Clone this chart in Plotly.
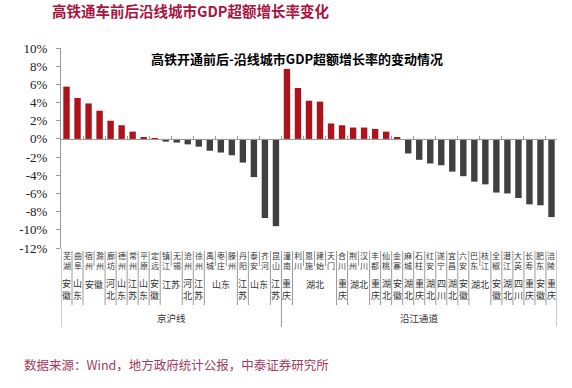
import plotly.graph_objects as go

# ---------------- data ----------------
cities = ["芜湖", "曲阜", "宿州", "滁州", "廊坊", "德州", "常州", "平原", "定远", "镇江",
          "无锡", "沧州", "徐州", "禹城", "枣庄", "滕州", "丹阳", "泰安", "齐河", "昆山",
          "潼南", "利川", "恩施", "建始", "天门", "合川", "荆州", "汉川", "丰都", "仙桃",
          "金寨", "麻城", "石柱", "红安", "遂宁", "宜昌", "六安", "巴东", "枝江", "全椒",
          "潜江", "大英", "长寿", "肥东", "涪陵"]
provinces = ["安徽", "山东", "安徽", "安徽", "河北", "山东", "江苏", "山东", "安徽", "江苏",
             "江苏", "河北", "江苏", "山东", "山东", "山东", "江苏", "山东", "山东", "江苏",
             "重庆", "湖北", "湖北", "湖北", "湖北", "重庆", "湖北", "湖北", "重庆", "湖北",
             "安徽", "湖北", "重庆", "湖北", "四川", "湖北", "安徽", "湖北", "湖北", "安徽",
             "湖北", "四川", "重庆", "安徽", "重庆"]
groups = ["京沪线"] * 20 + ["沿江通道"] * 25
values = [5.75, 4.5, 3.9, 3.1, 2.0, 1.5, 0.8, 0.2, 0.1, -0.3,
          -0.4, -0.6, -0.85, -1.3, -1.5, -1.8, -2.6, -4.2, -8.7, -9.6,
          7.7, 5.6, 4.2, 4.1, 1.7, 1.5, 1.25, 1.25, 1.1, 0.8,
          0.2, -1.6, -2.3, -2.7, -2.9, -3.6, -4.1, -4.7, -5.0, -5.9,
          -6.0, -6.5, -7.2, -7.3, -8.6]
y_tickvals = [10, 8, 6, 4, 2, 0, -2, -4, -6, -8, -10, -12]
y_ticktext = ["10%", "8%", "6%", "4%", "2%", "0%", "-2%", "-4%", "-6%", "-8%", "-10%", "-12%"]

title_text = "高铁通车前后沿线城市GDP超额增长率变化"
inner_title = "高铁开通前后-沿线城市GDP超额增长率的变动情况"
source_text = "数据来源：Wind，地方政府统计公报，中泰证券研究所"

# ---------------- layout constants ----------------
W, H = 572, 388
ML, MR, MT, MB = 61, 15, 48, 140
PLOT_H = H - MT - MB
PLOT_W = W - ML - MR
BOTTOM = MT + PLOT_H


def py(pix):
    return (BOTTOM - pix) / PLOT_H


def px(pix):
    return (pix - ML) / PLOT_W


RED = "#AE131B"
GREY = "#404040"
LINE = "#9A9A9A"
TXT = "#333333"
CJK = "Noto Sans CJK SC"
YMIN, YMAX = -12, 10

colors = [RED if v > 0 else GREY for v in values]

fig = go.Figure()
fig.add_trace(go.Bar(x=cities, y=values, marker=dict(color=colors, line=dict(width=0)),
                     hoverinfo="x+y"))

zero_pos = (0 - YMIN) / (YMAX - YMIN)

fig.update_layout(
    template="none",
    width=W, height=H,
    margin=dict(l=ML, r=MR, t=MT, b=MB, pad=0, autoexpand=False),
    paper_bgcolor="white", plot_bgcolor="white",
    bargap=0.42, showlegend=False,
    xaxis=dict(type="category", range=[-0.5, len(cities) - 0.5],
               anchor="free", position=zero_pos, automargin=False,
               showline=True, linecolor=LINE, linewidth=1,
               ticks="inside", tickson="boundaries", ticklen=3, tickcolor=LINE,
               showticklabels=False, showgrid=False, zeroline=False, fixedrange=True),
    yaxis=dict(range=[YMIN, YMAX], tickvals=y_tickvals, ticktext=y_ticktext,
               automargin=False,
               showline=True, linecolor=LINE, linewidth=1,
               ticks="outside", ticklen=4, tickcolor=LINE,
               ticklabelstandoff=6,
               tickfont=dict(family="Liberation Serif", size=13, color="#222222"),
               showgrid=False, zeroline=False, fixedrange=True),
)

ann = []
shapes = []

# city labels (vertical, one char per line)
for i, c in enumerate(cities):
    ann.append(dict(x=i, y=py(260), xref="x", yref="paper", text="<br>".join(c),
                    showarrow=False, xanchor="center", yanchor="middle", borderpad=0,
                    font=dict(family=CJK, size=8, color=TXT)))

# province runs
runs = []
start = 0
for i in range(1, len(cities) + 1):
    if i == len(cities) or provinces[i] != provinces[start] or groups[i] != groups[start]:
        runs.append((start, i - 1, provinces[start]))
        start = i
for s, e, p in runs:
    if e > s:
        ann.append(dict(x=(s + e) / 2, y=py(284), xref="x", yref="paper", text=p,
                        showarrow=False, xanchor="center", yanchor="middle", borderpad=0,
                        font=dict(family=CJK, size=9, color=TXT)))
    else:
        ann.append(dict(x=s, y=py(289), xref="x", yref="paper", text="<br>".join(p),
                        showarrow=False, xanchor="center", yanchor="middle", borderpad=0,
                        font=dict(family=CJK, size=9, color=TXT)))

# group labels
gstart = 0
for i in range(1, len(cities) + 1):
    if i == len(cities) or groups[i] != groups[gstart]:
        ann.append(dict(x=(gstart + i - 1) / 2, y=py(318), xref="x", yref="paper",
                        text=groups[gstart], showarrow=False, xanchor="center",
                        yanchor="middle", font=dict(family=CJK, size=9.5, color=TXT)))
        gstart = i

# separators
top_sep = py(251)
for b in range(len(cities) + 1):
    if b == 0 or b == len(cities) or groups[b] != groups[b - 1]:
        depth = 327
    elif provinces[b] != provinces[b - 1]:
        depth = 305
    else:
        depth = 266
    shapes.append(dict(type="line", xref="x", yref="paper", x0=b - 0.5, x1=b - 0.5,
                       y0=0 if b == 0 else top_sep, y1=py(depth),
                       line=dict(color=LINE, width=1)))

# titles and source
ann.append(dict(x=px(50), y=py(11), xref="paper", yref="paper",
                text="<b>" + title_text + "</b>", showarrow=False,
                xanchor="left", yanchor="middle",
                font=dict(family=CJK, size=14.5, color="#A8163F")))
ann.append(dict(x=px(297), y=py(58), xref="paper", yref="paper",
                text="<b>" + inner_title + "</b>", showarrow=False,
                xanchor="center", yanchor="middle",
                font=dict(family=CJK, size=13, color="#000000")))
ann.append(dict(x=px(22), y=py(364), xref="paper", yref="paper",
                text=source_text, showarrow=False,
                xanchor="left", yanchor="middle",
                font=dict(family=CJK, size=12.5, color="#A33A5E")))

fig.update_layout(annotations=ann, shapes=shapes)
fig.write_html("out.html", config={"displayModeBar": False},
               post_script="document.body.style.margin='0px';document.body.style.overflow='hidden';")
